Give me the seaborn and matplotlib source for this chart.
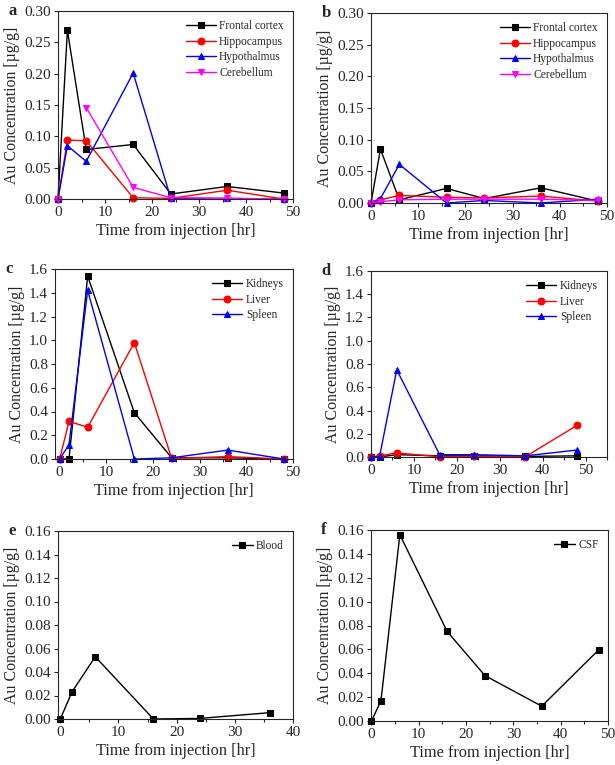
import numpy as np
import pandas as pd
import matplotlib
matplotlib.use("Agg")
import matplotlib.pyplot as plt
import seaborn as sns
from matplotlib.ticker import MultipleLocator

# sampling times [hr]
hours = [0, 2, 6, 16, 24, 36, 48]
hours_blood = [0, 2, 6, 16, 24, 36]

# panel a - brain regions (first set)
a_frontal = [0, 0.269, 0.079, 0.087, 0.008, 0.020, 0.0095]
a_hippo = [0, 0.094, 0.093, 0.002, 0.001, 0.014, 0.0]
a_hypo = [0, 0.085, 0.060, 0.201, 0.001, 0.001, 0.0]
a_cereb = [0, np.nan, 0.146, 0.0186, 0.002, 0.001, 0.0]

# panel b - brain regions (second set)
b_frontal = [0, 0.085, 0.005, 0.023, 0.007, 0.024, 0.003]
b_hippo = [0, 0.005, 0.012, 0.009, 0.008, 0.011, 0.003]
b_hypo = [0, 0.007, 0.061, 0.0, 0.004, 0.0, 0.006]
b_cereb = [0, 0.002, 0.005, 0.006, 0.006, 0.006, 0.004]

# panel c - organs (first set)
c_kidneys = [0, 0.0, 1.54, 0.39, 0.01, 0.01, 0.0]
c_liver = [0, 0.317, 0.267, 0.98, 0.005, 0.02, 0.0]
c_spleen = [0, 0.12, 1.42, 0.0, 0.01, 0.075, 0.0]

# panel d - organs (second set)
d_kidneys = [0, 0.0, 0.02, 0.01, 0.01, 0.005, 0.01]
d_liver = [0, 0.01, 0.035, 0.002, 0.005, 0.003, 0.272]
d_spleen = [0, 0.005, 0.75, 0.02, 0.02, 0.01, 0.06]

# panel e / f
blood = [0, 0.023, 0.053, 0.0, 0.0005, 0.0054]
csf = [0, 0.0168, 0.156, 0.075, 0.038, 0.0124, 0.0595]

brain_names = ["Frontal cortex", "Hippocampus", "Hypothalmus", "Cerebellum"]
organ_names = ["Kidneys", "Liver", "Spleen"]

sns.set_style("ticks")
plt.rcParams["font.family"] = ["Liberation Serif", "DejaVu Serif"]

W, H = 615, 765
fig = plt.figure(figsize=(W / 100, H / 100), dpi=100)


def make_ax(x0, y0, x1, y1):
    # pixel box -> figure fraction
    return fig.add_axes([x0 / W, 1 - y1 / H, (x1 - x0) / W, (y1 - y0) / H])


styles = [("black", "s"), ("red", "o"), ("blue", "^"), ("magenta", "v")]


def draw_series(ax, x, y, name, color, marker):
    df = pd.DataFrame({"x": x, "y": y})
    ok = df["y"].notna()
    seg = (~ok).cumsum()
    first = True
    for _, part in df[ok].groupby(seg[ok]):
        sns.lineplot(data=part, x="x", y="y", ax=ax, color=color, marker=marker,
                     markersize=5, markeredgecolor=color, linewidth=1,
                     label=name if first else None, legend=False, clip_on=False)
        first = False


def style_ax(ax, xlim, ylim, ystep, letter):
    ax.set_xlim(*xlim)
    ax.set_ylim(*ylim)
    ax.xaxis.set_major_locator(MultipleLocator(10))
    ax.xaxis.set_minor_locator(MultipleLocator(5))
    ax.yaxis.set_major_locator(MultipleLocator(ystep))
    ax.set_xlabel("Time from injection [hr]", fontsize=11.8, labelpad=3)
    ax.set_ylabel("Au Concentration [µg/g]", fontsize=11.4, labelpad=3)
    ax.tick_params(labelsize=11, direction="out", length=3, width=0.8, pad=2)
    ax.tick_params(which="minor", direction="out", length=2, width=0.8)
    for s in ax.spines.values():
        s.set_visible(True)
        s.set_linewidth(0.8)
    ax.text(-0.21, 1.0, letter, transform=ax.transAxes, fontsize=12,
            fontweight="bold", va="center", ha="left")


def legend(ax, handlelength=2.6):
    ax.legend(loc="upper right", frameon=False, fontsize=8.3, handlelength=handlelength,
              labelspacing=0.3, borderaxespad=0.4, handletextpad=0.3)


# a
ax = make_ax(58, 11, 293, 199)
for name, ys, (c, m) in zip(brain_names, [a_frontal, a_hippo, a_hypo, a_cereb], styles):
    draw_series(ax, hours, ys, name, c, m)
style_ax(ax, (0, 50), (0, 0.30), 0.05, "a")
legend(ax)

# b
ax = make_ax(371, 13, 607, 203)
for name, ys, (c, m) in zip(brain_names, [b_frontal, b_hippo, b_hypo, b_cereb], styles):
    draw_series(ax, hours, ys, name, c, m)
style_ax(ax, (0, 50), (0, 0.30), 0.05, "b")
legend(ax)

# c
ax = make_ax(55, 269, 293, 459)
for name, ys, (c, m) in zip(organ_names, [c_kidneys, c_liver, c_spleen], styles):
    draw_series(ax, hours, ys, name, c, m)
style_ax(ax, (-1, 50), (0, 1.6), 0.2, "c")
legend(ax)

# d
ax = make_ax(371, 271, 607, 457)
for name, ys, (c, m) in zip(organ_names, [d_kidneys, d_liver, d_spleen], styles):
    draw_series(ax, hours, ys, name, c, m)
style_ax(ax, (0, 55), (0, 1.6), 0.2, "d")
legend(ax)

# e
ax = make_ax(58, 531, 293, 719)
draw_series(ax, hours_blood, blood, "Blood", "black", "s")
style_ax(ax, (-0.4, 40), (0, 0.16), 0.02, "e")
legend(ax, 1.8)

# f
ax = make_ax(371, 530, 608, 721)
draw_series(ax, hours, csf, "CSF", "black", "s")
style_ax(ax, (-0.1, 50), (0, 0.16), 0.02, "f")
legend(ax, 1.8)

fig.savefig("out.png", dpi=100)
